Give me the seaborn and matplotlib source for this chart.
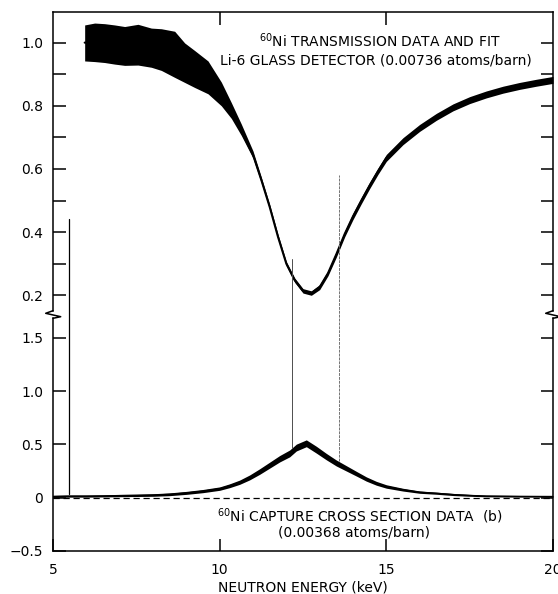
import matplotlib
matplotlib.use("Agg")
import numpy as np
import pandas as pd
import seaborn as sns
import matplotlib.pyplot as plt
from matplotlib.lines import Line2D

# -------------------------
# Values
# -------------------------
# 60Ni transmission (Li-6 glass detector): fitted curve and data band
trans_energy = [5.95, 6.25, 6.55, 6.85, 7.15, 7.55, 7.95, 8.25, 8.65, 8.95,
                9.25, 9.65, 10.05, 10.35, 10.65, 11.0, 11.25, 11.5, 11.75, 12.0,
                12.25, 12.5, 12.75, 13.0, 13.25, 13.5, 13.75, 14.0, 14.25, 14.5,
                14.75, 15.0, 15.5, 16.0, 16.5, 17.0, 17.5, 18.0, 18.5, 19.0,
                19.5, 20.0]
trans_fit = [1.0, 1.0, 0.999, 0.996, 0.992, 0.985, 0.972, 0.96, 0.935, 0.915,
             0.897, 0.868, 0.825, 0.778, 0.72, 0.645, 0.565, 0.48, 0.385, 0.30,
             0.248, 0.214, 0.207, 0.226, 0.27, 0.33, 0.394, 0.45, 0.50, 0.548,
             0.593, 0.635, 0.688, 0.73, 0.765, 0.795, 0.818, 0.836, 0.851, 0.863,
             0.873, 0.882]
trans_low = [0.942, 0.94, 0.937, 0.932, 0.928, 0.929, 0.922, 0.912, 0.89, 0.874,
             0.858, 0.838, 0.80, 0.76, 0.706, 0.634, 0.556, 0.472, 0.377, 0.293,
             0.241, 0.207, 0.2, 0.218, 0.262, 0.321, 0.385, 0.44, 0.49, 0.538,
             0.583, 0.624, 0.677, 0.719, 0.754, 0.784, 0.807, 0.825, 0.84, 0.852,
             0.862, 0.871]
trans_high = [1.056, 1.062, 1.06, 1.056, 1.051, 1.058, 1.046, 1.044, 1.036, 0.999,
              0.975, 0.942, 0.875, 0.81, 0.742, 0.657, 0.574, 0.488, 0.393, 0.307,
              0.255, 0.221, 0.214, 0.234, 0.278, 0.339, 0.403, 0.46, 0.51, 0.558,
              0.603, 0.646, 0.699, 0.741, 0.776, 0.806, 0.829, 0.847, 0.862, 0.874,
              0.884, 0.893]

# 60Ni capture cross section data (b)
cap_energy = [5.0, 5.5, 6.0, 6.5, 7.0, 7.5, 8.0, 8.5, 9.0, 9.5,
              10.0, 10.3, 10.6, 10.9, 11.2, 11.5, 11.8, 12.1, 12.3, 12.6,
              12.9, 13.2, 13.5, 13.8, 14.1, 14.4, 14.7, 15.0, 15.5, 16.0,
              16.5, 17.0, 17.5, 18.0, 19.0, 20.0]
cap_mid = [0.012, 0.015, 0.015, 0.017, 0.02, 0.022, 0.025, 0.032, 0.045, 0.062,
           0.085, 0.112, 0.145, 0.19, 0.245, 0.305, 0.365, 0.415, 0.47, 0.51,
           0.45, 0.385, 0.325, 0.275, 0.225, 0.175, 0.135, 0.105, 0.075, 0.052,
           0.042, 0.03, 0.022, 0.016, 0.013, 0.012]
cap_spread = [0.01, 0.01, 0.01, 0.01, 0.011, 0.011, 0.012, 0.013, 0.014, 0.015,
              0.016, 0.018, 0.02, 0.023, 0.026, 0.028, 0.03, 0.032, 0.032, 0.032,
              0.032, 0.03, 0.028, 0.025, 0.022, 0.02, 0.018, 0.016, 0.013, 0.011,
              0.01, 0.01, 0.009, 0.008, 0.008, 0.008]

# narrow spikes in the capture data (bottom-panel units, tops run past the break)
spike_energy = [5.49, 12.18, 13.58]
spike_base = [0.03, 0.47, 0.34]
spike_top = [2.61, 2.24, 3.03]

trans_yticks = [0.2, 0.4, 0.6, 0.8, 1.0]
trans_yticklabels = ["0.2", "0.4", "0.6", "0.8", "1.0"]
trans_minor = [0.3, 0.5, 0.7, 0.9]
cap_yticks = [-0.5, 0, 0.5, 1.0, 1.5]
cap_yticklabels = ["\u22120.5", "0", "0.5", "1.0", "1.5"]
energy_ticks = [5, 10, 15, 20]

trans_df = pd.DataFrame({"energy": trans_energy, "fit": trans_fit})

# -------------------------
# Style
# -------------------------
sns.set_style("ticks")
plt.rcParams["font.family"] = ["DejaVu Sans"]
plt.rcParams.update({
    "axes.linewidth": 1.1,
    "axes.edgecolor": "black",
    "axes.labelcolor": "black",
    "text.color": "black",
    "xtick.color": "black",
    "ytick.color": "black",
})

W, H = 558, 594
fig = plt.figure(figsize=(W / 100, H / 100), dpi=100)
x0, x1 = 53, 553
y_top, y_break, y_bot = 12, 315, 551
ax_t = fig.add_axes([x0 / W, 1 - y_break / H, (x1 - x0) / W, (y_break - y_top) / H])
ax_b = fig.add_axes([x0 / W, 1 - y_bot / H, (x1 - x0) / W, (y_bot - y_break) / H])
for ax in (ax_t, ax_b):
    ax.set_facecolor("none")

t_lim = (0.1376, 1.097)
b_lim = (-0.5, 1.713)
fs = 10

# -------------------------
# Top panel: transmission
# -------------------------
ax_t.fill_between(trans_energy, trans_low, trans_high, color="black", lw=0)
sns.lineplot(data=trans_df, x="energy", y="fit", ax=ax_t, color="black", lw=1.5, sort=False)
ax_t.set_xlim(5, 20)
ax_t.set_ylim(*t_lim)
ax_t.set_yticks(trans_yticks)
ax_t.set_yticklabels(trans_yticklabels)
ax_t.set_yticks(trans_minor, minor=True)
ax_t.set_xticks([10, 15])
ax_t.tick_params(axis="x", which="both", bottom=False, top=True, labelbottom=False,
                 direction="in", length=9, width=1.1)
ax_t.tick_params(axis="y", which="both", left=True, right=True, direction="in",
                 length=9, width=1.1, labelsize=fs, pad=7)
ax_t.set_xlabel("")
ax_t.set_ylabel("")
ax_t.spines["bottom"].set_visible(False)
gap_t = 4.3 / (y_break - y_top) * (t_lim[1] - t_lim[0])
ax_t.spines["left"].set_bounds(t_lim[0] + gap_t, t_lim[1])
ax_t.spines["right"].set_bounds(t_lim[0] + gap_t, t_lim[1])

fig.text(380 / W, 1 - 47 / H, "$^{60}$Ni TRANSMISSION DATA AND FIT",
         ha="center", va="baseline", fontsize=fs)
fig.text(376 / W, 1 - 65 / H, "Li-6 GLASS DETECTOR (0.00736 atoms/barn)",
         ha="center", va="baseline", fontsize=fs)

# -------------------------
# Bottom panel: capture
# -------------------------
cap_lo = np.array(cap_mid) - np.array(cap_spread)
cap_hi = np.array(cap_mid) + np.array(cap_spread)
ax_b.axhline(0, color="black", lw=0.9, ls=(0, (5, 3)), zorder=1)
ax_b.fill_between(cap_energy, cap_lo, cap_hi, color="black", lw=0, zorder=2)
sns.lineplot(x=cap_energy, y=cap_mid, ax=ax_b, color="black", lw=0.8, sort=False, zorder=3)

spike_styles = [dict(color="black", lw=0.9, ls="-"),
                dict(color="0.3", lw=0.7, ls="-"),
                dict(color="0.45", lw=0.7, ls=(0, (3, 1)))]
for e, lo, hi, st in zip(spike_energy, spike_base, spike_top, spike_styles):
    ax_b.plot([e, e], [lo, hi], clip_on=False, zorder=5, **st)

ax_b.set_xlim(5, 20)
ax_b.set_ylim(*b_lim)
ax_b.set_yticks(cap_yticks)
ax_b.set_yticklabels(cap_yticklabels)
ax_b.set_xticks(energy_ticks)
ax_b.set_xticklabels([str(v) for v in energy_ticks])
ax_b.tick_params(axis="x", bottom=True, top=False, direction="in", length=9,
                 width=1.1, labelsize=fs, pad=9)
ax_b.tick_params(axis="y", left=True, right=True, direction="in", length=9,
                 width=1.1, labelsize=fs, pad=7)
ax_b.set_ylabel("")
ax_b.set_xlabel("NEUTRON ENERGY (keV)", fontsize=fs, labelpad=2)
ax_b.spines["top"].set_visible(False)
gap_b = 3.3 / (y_bot - y_break) * (b_lim[1] - b_lim[0])
ax_b.spines["left"].set_bounds(b_lim[0], b_lim[1] - gap_b)
ax_b.spines["right"].set_bounds(b_lim[0], b_lim[1] - gap_b)

fig.text(360 / W, 1 - 522 / H, "$^{60}$Ni CAPTURE CROSS SECTION DATA  (b)",
         ha="center", va="baseline", fontsize=fs)
fig.text(354 / W, 1 - 537 / H, "(0.00368 atoms/barn)",
         ha="center", va="baseline", fontsize=fs)

# axis-break zigzags on both side spines
zig_dx = [0, -7.3, 7.7, 0]
zig_dy = [-4.3, -1.7, 1.7, 3.3]
for sx in (x0, x1):
    fig.add_artist(Line2D([(sx + dx) / W for dx in zig_dx],
                          [1 - (y_break + dy) / H for dy in zig_dy],
                          color="black", lw=1.1, transform=fig.transFigure))

fig.savefig("out.png", dpi=100)
